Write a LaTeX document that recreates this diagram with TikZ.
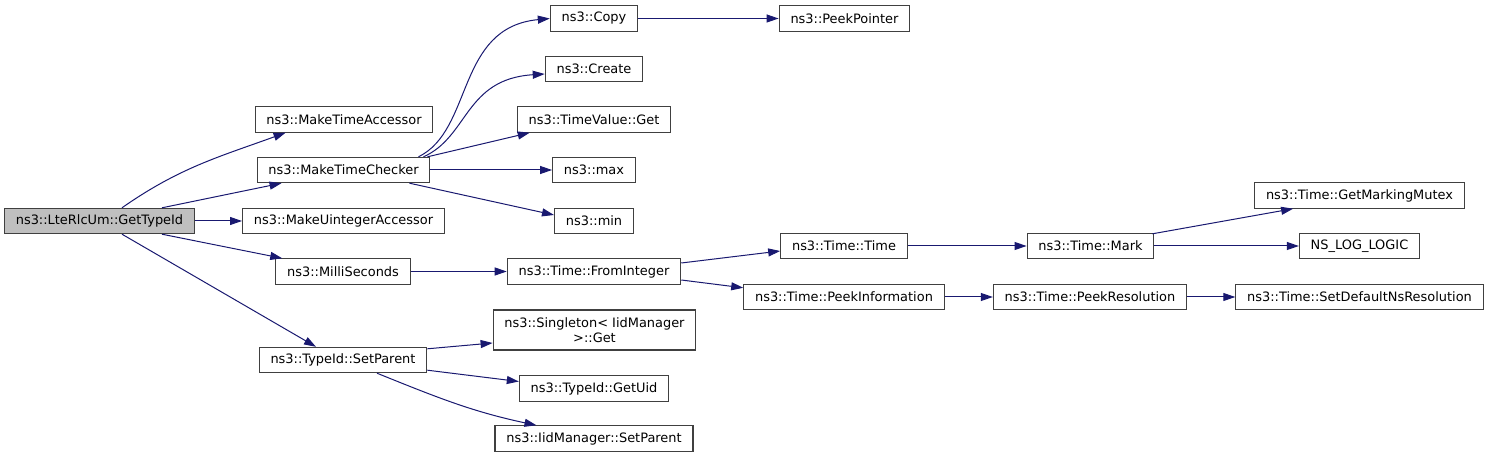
\documentclass[tikz,border=0pt]{standalone}
\usepackage{fontspec}
\setmainfont{DejaVu Sans}
\usepackage{xcolor}
\usepackage{tikz}
\usetikzlibrary{positioning,calc,arrows.meta}
\definecolor{edgeblue}{HTML}{191970}
\definecolor{boxgray}{HTML}{404040}
\definecolor{rootgray}{HTML}{BFBFBF}

\begin{document}
\begin{tikzpicture}[
        x=0.75pt, y=-0.75pt,
        fn/.style={rectangle, draw=boxgray, line width=0.8pt, fill=white, align=center, inner xsep=8.5pt, inner ysep=2pt, minimum height=19pt, font=\fontsize{9.7}{11.2}\selectfont},
        rootfn/.style={fn, fill=rootgray},
        call/.style={-{Triangle[length=9pt,width=6pt]}, line width=0.75pt, color=edgeblue}
    ]
        \useasboundingbox (0,0) rectangle (1489,459);

        \node[rootfn] (gettypeid) at (99.5,221) {ns3::LteRlcUm::GetTypeId};

        \node[fn] (maketimeacc) at (344,119.5) {ns3::MakeTimeAccessor};
        \node[fn] (maketimechk) at (343.5,170) {ns3::MakeTimeChecker};
        \node[fn] (makeuintacc) at (343.5,221) {ns3::MakeUintegerAccessor};
        \node[fn] (milliseconds) at (343,271.5) {ns3::MilliSeconds};
        \node[fn] (setparent) at (343,360) {ns3::TypeId::SetParent};

        \node[fn] (copy) at (594,18.5) {ns3::Copy};
        \node[fn] (create) at (594,69) {ns3::Create};
        \node[fn] (tvget) at (594,119.5) {ns3::TimeValue::Get};
        \node[fn] (max) at (594,170) {ns3::max};
        \node[fn] (min) at (594,221) {ns3::min};
        \node[fn] (frominteger) at (594,271.5) {ns3::Time::FromInteger};
        \node[fn, minimum height=30pt] (singletonget) at (594.5,330) {ns3::Singleton< IidManager\\>::Get};
        \node[fn] (getuid) at (594,388.5) {ns3::TypeId::GetUid};
        \node[fn] (iidsetparent) at (594,438.5) {ns3::IidManager::SetParent};

        \node[fn] (peekptr) at (844.5,18.5) {ns3::PeekPointer};
        \node[fn] (timetime) at (844,246) {ns3::Time::Time};
        \node[fn] (peekinfo) at (844,297) {ns3::Time::PeekInformation};

        \node[fn] (mark) at (1090.5,246) {ns3::Time::Mark};
        \node[fn] (peekres) at (1090,297) {ns3::Time::PeekResolution};

        \node[fn] (markmutex) at (1359.5,195.5) {ns3::Time::GetMarkingMutex};
        \node[fn] (nslog) at (1359.5,246) {NS\_LOG\_LOGIC};
        \node[fn] (setdefres) at (1359.5,297) {ns3::Time::SetDefaultNsResolution};

        \draw[call] ($(gettypeid.north)+(22.5,0)$) to[out=35,in=200] ($(maketimeacc.south west)+(31,0)$);
        \draw[call] ($(gettypeid.north)+(62.5,0)$) -- ($(maketimechk.south west)+(25,0)$);
        \draw[call] (gettypeid.east) -- (makeuintacc.west);
        \draw[call] ($(gettypeid.south)+(62.5,0)$) -- ($(milliseconds.north west)+(7,0)$);
        \draw[call] ($(gettypeid.south)+(22.5,0)$) -- ($(setparent.north)+(-27,0)$);

        \draw[call] ($(maketimechk.north)+(75,0)$) .. controls +(55,-27) and +(-94,9) .. (copy.west);
        \draw[call] ($(maketimechk.north)+(80,0)$) .. controls +(45,-20) and +(-80,5) .. ($(create.west)+(0,5)$);
        \draw[call] ($(maketimechk.north)+(84,0)$) -- ($(tvget.south west)+(13,0)$);
        \draw[call] (maketimechk.east) -- (max.west);
        \draw[call] ($(maketimechk.south)+(66,0)$) -- ($(min.west)+(0,-6)$);

        \draw[call] (copy.east) -- (peekptr.west);
        \draw[call] (milliseconds.east) -- (frominteger.west);

        \draw[call] ($(frominteger.east)+(0,-8.5)$) -- ($(timetime.west)+(0,5)$);
        \draw[call] ($(frominteger.east)+(0,8.5)$) -- ($(peekinfo.north west)+(0,4)$);
        \draw[call] (timetime.east) -- (mark.west);
        \draw[call] (peekinfo.east) -- (peekres.west);
        \draw[call] ($(mark.north east)+(-2,1)$) -- ($(markmutex.south west)+(39,0)$);
        \draw[call] (mark.east) -- (nslog.west);
        \draw[call] (peekres.east) -- (setdefres.west);

        \draw[call] ($(setparent.north east)+(0,2)$) -- ($(singletonget.west)+(0,13)$);
        \draw[call] ($(setparent.south east)+(0,-3)$) -- ($(getuid.west)+(0,-7)$);
        \draw[call] ($(setparent.south)+(34,0)$) to[out=-22,in=168] ($(iidsetparent.north west)+(42,0)$);
    \end{tikzpicture}
\end{document}
